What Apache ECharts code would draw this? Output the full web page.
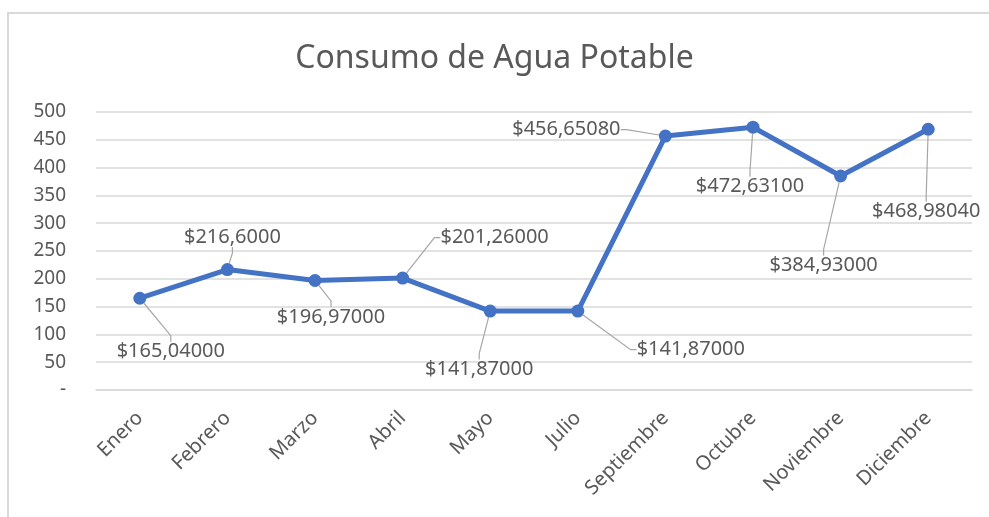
<!DOCTYPE html>
<html>
<head>
<meta charset="utf-8">
<script src="https://cdn.jsdelivr.net/npm/echarts@6/dist/echarts.min.js"></script>
<style>
  html, body { margin: 0; padding: 0; background: #fff; }
  #chart { width: 989px; height: 517px; }
</style>
</head>
<body>
<div id="chart"></div>
<script>
var meses = ['Enero', 'Febrero', 'Marzo', 'Abril', 'Mayo', 'Julio', 'Septiembre', 'Octubre', 'Noviembre', 'Diciembre']
var consumo = [165.04, 216.6, 196.97, 201.26, 141.87, 141.87, 456.6508, 472.631, 384.93, 468.9804]
var etiquetas = ['$165,04000', '$216,6000', '$196,97000', '$201,26000', '$141,87000', '$141,87000', '$456,65080', '$472,63100', '$384,93000', '$468,98040']

// desplazamiento de cada etiqueta respecto al punto
var offX = [31, 5, 16, 92, -11, 113, -99, -3, -17, -2]
var offY = [70, -16, 53, -24, 75, 55, 10, 76, 106, 99]

var font = 'Noto Sans'
var gris = '#595959'

var chart = echarts.init(document.getElementById('chart'))
var option = {
  animation: false,
  textStyle: { fontFamily: font },
  title: {
    text: 'Consumo de Agua Potable',
    left: 'center',
    top: 38,
    textStyle: { fontFamily: font, fontSize: 32, fontWeight: 'normal', color: gris }
  },
  graphic: [
    {
      type: 'rect',
      shape: { x: 8, y: 13, width: 1200, height: 800 },
      style: { fill: 'none', stroke: '#d9d9d9', lineWidth: 2 },
      silent: true
    }
  ],
  grid: { left: 96, right: 17, top: 112, bottom: 127, containLabel: false },
  xAxis: {
    type: 'category',
    data: meses,
    boundaryGap: true,
    axisLine: { lineStyle: { color: '#d9d9d9', width: 1.5 } },
    axisTick: { show: false },
    axisLabel: { rotate: 45, interval: 0, margin: 25, fontSize: 20, color: gris, fontFamily: font }
  },
  yAxis: {
    type: 'value',
    min: 0,
    max: 500,
    interval: 50,
    axisLine: { show: false },
    axisTick: { show: false },
    splitLine: { lineStyle: { color: '#d9d9d9', width: 1.5 } },
    axisLabel: {
      margin: 30,
      fontSize: 19,
      color: gris,
      fontFamily: font,
      formatter: function (v) { return v === 0 ? '-' : v }
    }
  },
  series: [
    {
      type: 'line',
      data: consumo,
      symbol: 'circle',
      symbolSize: 13,
      lineStyle: { color: '#4472C4', width: 5 },
      itemStyle: { color: '#4472C4' },
      label: {
        show: true,
        position: 'top',
        distance: 0,
        fontSize: 20,
        color: gris,
        fontFamily: font,
        formatter: function (p) { return etiquetas[p.dataIndex] }
      },
      labelLine: { show: true, length2: 6, lineStyle: { color: '#a6a6a6', width: 1.2 } },
      labelLayout: function (p) {
        return { dx: offX[p.dataIndex], dy: offY[p.dataIndex] }
      }
    }
  ]
}
chart.setOption(option)
</script>
</body>
</html>
